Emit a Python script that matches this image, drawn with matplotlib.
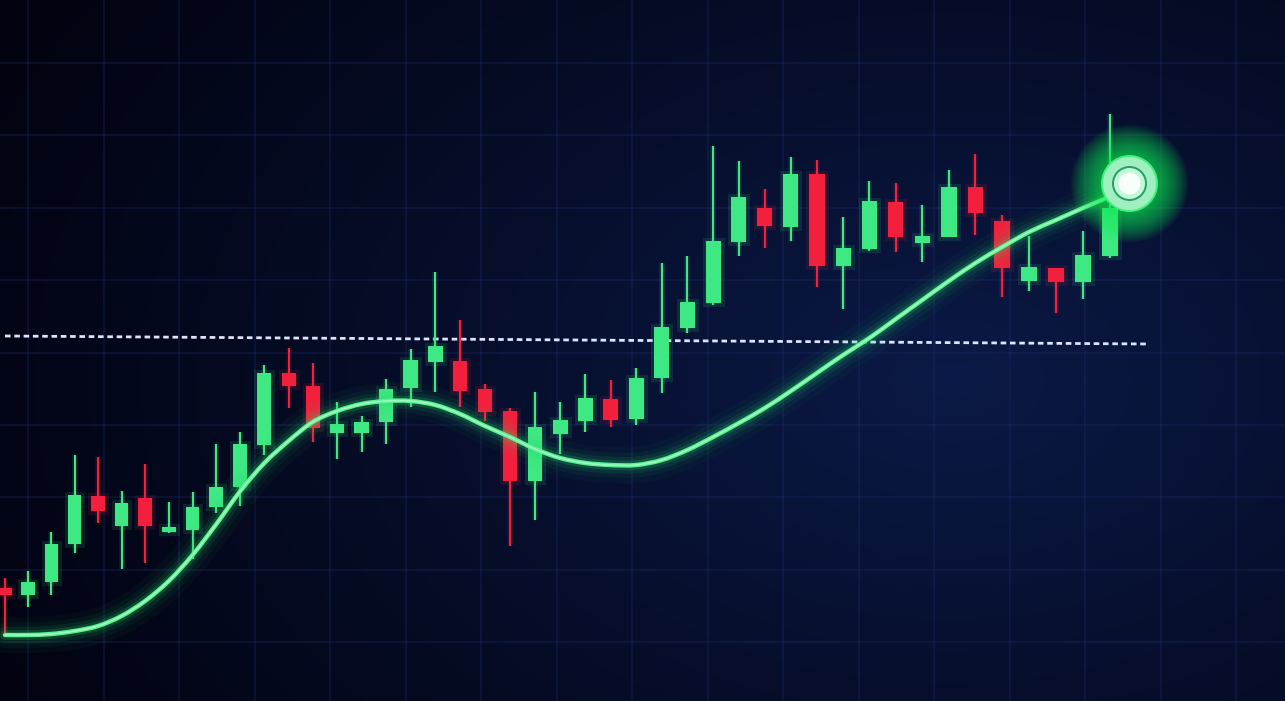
import numpy as np
import matplotlib
matplotlib.use("Agg")
import matplotlib.pyplot as plt
from matplotlib.path import Path
from matplotlib.patches import PathPatch

# ---------------- data (price units) ----------------
opens  = [113, 106, 119, 157, 205, 175, 203, 169, 171, 194, 214, 256, 328, 315, 268,
          268, 279, 313, 339, 340, 312, 290, 220, 267, 280, 302, 282, 323, 373, 398,
          459, 493, 474, 527, 435, 452, 499, 458, 464, 514, 480, 420, 433, 419, 445]
closes = [106, 119, 157, 206, 190, 198, 175, 174, 194, 214, 257, 328, 315, 273, 277,
          279, 312, 341, 355, 310, 289, 220, 274, 281, 303, 281, 323, 374, 399, 460,
          504, 475, 527, 435, 453, 500, 464, 465, 514, 488, 433, 434, 419, 446, 493]
highs  = [123, 130, 169, 246, 244, 210, 237, 199, 209, 257, 269, 336, 353, 338, 299,
          285, 322, 352, 429, 381, 317, 293, 309, 299, 327, 321, 333, 438, 445, 555,
          540, 512, 544, 541, 484, 520, 518, 496, 531, 547, 486, 465, 433, 470, 587]
lows   = [ 64,  94, 106, 148, 178, 132, 138, 168, 142, 188, 195, 246, 293, 259, 242,
          249, 257, 294, 309, 294, 280, 155, 181, 247, 269, 274, 276, 308, 368, 396,
          445, 453, 460, 414, 392, 450, 449, 439, 464, 466, 404, 410, 388, 402, 443]
ma_values = [66, 66, 67, 70, 75, 85, 100, 120, 146, 177, 210, 238, 260, 279, 290,
             297, 300, 300, 296, 287, 275, 264, 252, 243, 238, 236, 236, 241, 251, 264,
             278, 293, 310, 328, 346, 363, 382, 401, 420, 438, 454, 469, 481, 493, 505]
marker_index = 44.7
marker_value = 518
level_values = [365, 357]
level_range = [0, 45.4]

# ---------------- figure ----------------
W, H = 1285, 701
fig = plt.figure(figsize=(W / 100, H / 100), dpi=100)

# background gradient + grid
bg = fig.add_axes([0, 0, 1, 1])
yy, xx = np.mgrid[0:H, 0:W]
d = np.sqrt(((xx - 950) / 900.0) ** 2 + ((yy - 380) / 600.0) ** 2)
t = np.clip(d / 1.2, 0, 1) ** 0.85
c0 = np.array([0x0b, 0x1a, 0x48]) / 255.0
c1 = np.array([0x02, 0x03, 0x10]) / 255.0
img = c0 * (1 - t[..., None]) + c1 * t[..., None]
bg.imshow(img, extent=(0, W, H, 0), aspect='auto', interpolation='bilinear')
for gx in np.arange(28, W, 75.5):
    bg.axvline(gx, color='#1e3070', lw=1.2, alpha=0.33)
for gy in np.arange(63, H, 72.4):
    bg.axhline(gy, color='#1e3070', lw=1.2, alpha=0.33)
bg.set_xlim(0, W)
bg.set_ylim(H, 0)
bg.axis('off')

# main chart axes with a slight perspective on the time axis
ax = fig.add_axes([0, 0, 1, 1], facecolor='none')
A, B = 23.07, 0.0465


def fwd(i):
    i = np.asarray(i, dtype=float)
    return 5 + A * i + B * i * i


def inv(x):
    x = np.asarray(x, dtype=float)
    return (-A + np.sqrt(np.maximum(A * A + 4 * B * (x - 5), 0))) / (2 * B)


ax.set_xscale('function', functions=(fwd, inv))
ax.set_xlim(float(inv(0)), float(inv(W)))
ax.set_ylim(0, H)
ax.axis('off')

green = '#3ee882'
red = '#f2203c'
idx = np.arange(len(opens))

# dotted level
ax.plot(level_range, level_values, color='#dde4ff', lw=2.0,
        dashes=(2.0, 1.35), dash_capstyle='butt', zorder=2)

# candles
for i, o, c, h, l in zip(idx, opens, closes, highs, lows):
    col = green if c >= o else red
    ax.vlines(i, l, h, color=col, lw=4, alpha=0.12, zorder=3)
    ax.vlines(i, l, h, color=col, lw=1.5, zorder=3.5)
    ax.bar(i, abs(c - o), bottom=min(o, c), width=0.58, color=col,
           edgecolor=col, linewidth=5, alpha=0.12, zorder=3)
    ax.bar(i, max(abs(c - o), 3), bottom=min(o, c), width=0.58, color=col,
           linewidth=0, zorder=4)

# moving-average line as a smooth Catmull-Rom Bezier path through the readings
px = np.array(list(fwd(idx)) + [float(fwd(marker_index))])
py = np.array(list(ma_values) + [marker_value], dtype=float)
pts = np.column_stack([px, py])
ext = np.vstack([pts[0], pts, pts[-1]])
verts = [tuple(pts[0])]
codes = [Path.MOVETO]
for k in range(len(pts) - 1):
    p0, p1, p2, p3 = ext[k], ext[k + 1], ext[k + 2], ext[k + 3]
    c1 = p1 + (p2 - p0) / 6.0
    c2 = p2 - (p3 - p1) / 6.0
    verts += [tuple(c1), tuple(c2), tuple(p2)]
    codes += [Path.CURVE4] * 3
verts = [(float(inv(vx)), vy) for vx, vy in verts]
ma_path = Path(verts, codes)


def add_line(lw, color, alpha, z):
    ax.add_patch(PathPatch(ma_path, fill=False, edgecolor=color, lw=lw,
                           alpha=alpha, capstyle='round', joinstyle='round', zorder=z))


for lw, al in [(26, 0.035), (18, 0.05), (12, 0.09), (7, 0.17)]:
    add_line(lw, '#22e26a', al, 5)
add_line(3.2, '#5cf292', 1.0, 6)
add_line(1.2, '#9dfbbf', 1.0, 6)

# glowing end marker
for dpx in np.linspace(118, 56, 26):
    ax.scatter([marker_index], [marker_value], s=(dpx * 0.72) ** 2, color='#18f05a',
               alpha=0.045, linewidths=0, zorder=7)
ax.scatter([marker_index], [marker_value], s=(57 * 0.72) ** 2, color='#45f080',
           linewidths=0, zorder=8)
ax.scatter([marker_index], [marker_value], s=(53 * 0.72) ** 2, color='#a0efc0',
           linewidths=0, zorder=8.5)
ax.scatter([marker_index], [marker_value], s=(35 * 0.72) ** 2, color='#2a9e6a',
           linewidths=0, zorder=9)
ax.scatter([marker_index], [marker_value], s=(31 * 0.72) ** 2, color='#c2f8d6',
           linewidths=0, zorder=10)
ax.scatter([marker_index], [marker_value], s=(22 * 0.72) ** 2, color='#f6fff9',
           linewidths=0, zorder=11)

fig.savefig('out.png', dpi=100)
